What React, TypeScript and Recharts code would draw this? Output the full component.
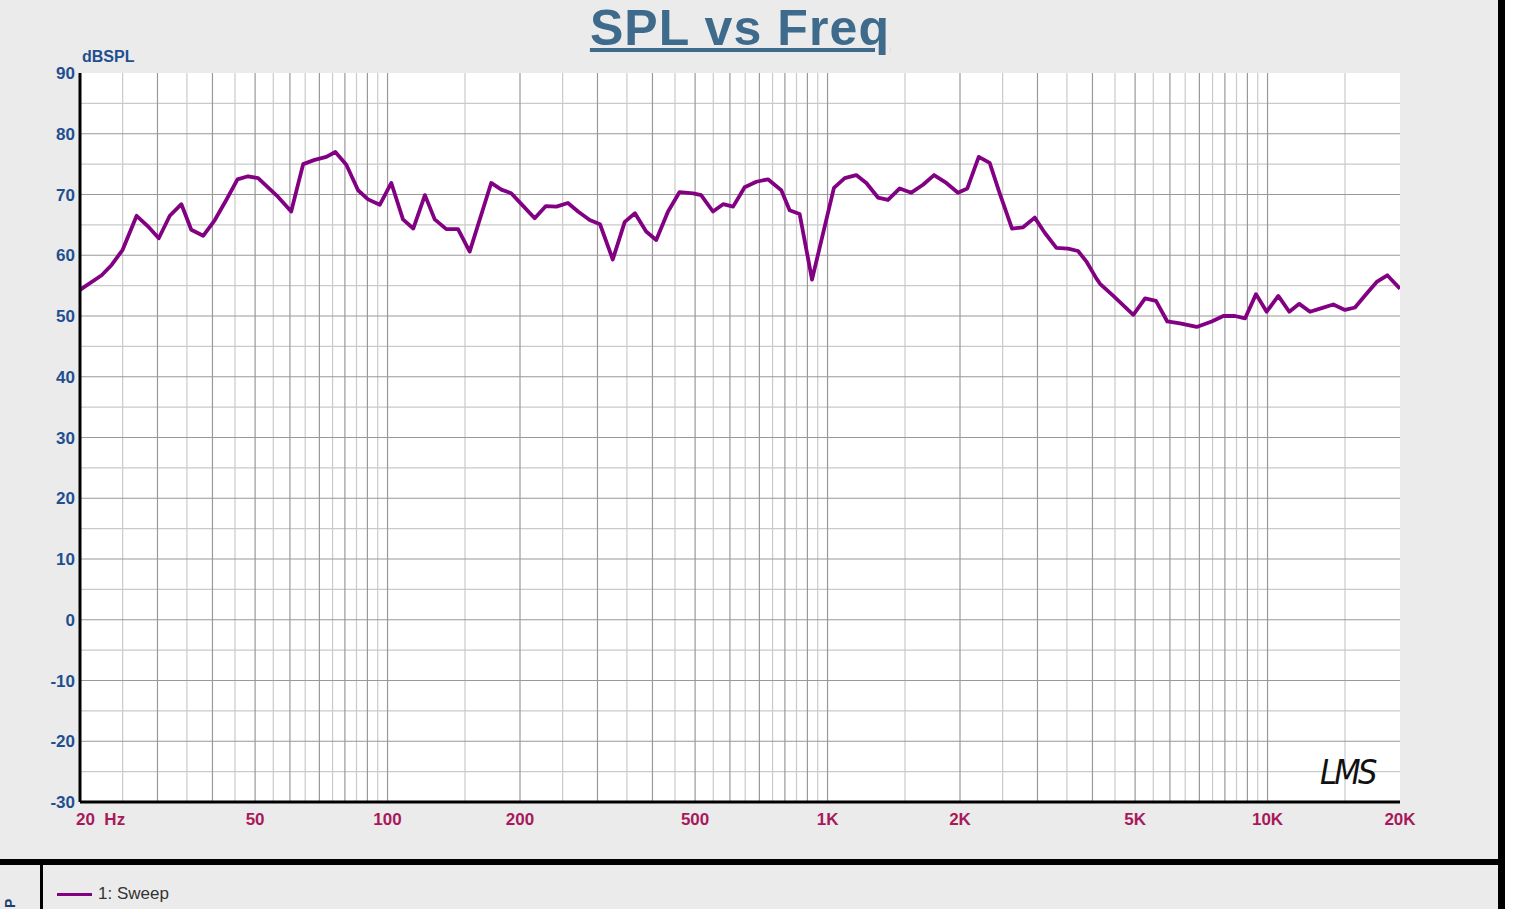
import React from "react";
import {
  LineChart,
  Line,
  XAxis,
  YAxis,
  ReferenceLine,
  ReferenceArea,
} from "recharts";

const freqHz = [
  20, 22.4, 23.6, 25.0, 26.9, 28.5, 30.2, 32.0, 34.0, 35.8, 38.1, 40.5, 43.0, 45.6, 48.2, 50.8,
  56.4, 60.4, 64.3, 68.3, 72.6, 76.1, 80.6, 85.7, 90.3, 96.0, 102, 108.4, 114.4, 121.6, 128,
  136, 144.6, 153.7, 172, 181.4, 191, 201, 216, 229, 242, 257, 271, 288, 304, 325, 346, 365,
  387, 408, 434, 461, 495, 516, 549, 579, 610, 648, 689, 732, 785, 820, 864, 922, 1034, 1094,
  1162, 1225, 1302, 1372, 1459, 1550, 1648, 1746, 1862, 1979, 2078, 2206, 2336, 2462, 2626,
  2782, 2957, 3116, 3312, 3520, 3709, 3882, 4082, 4162, 4462, 4954, 5268, 5578, 5918, 6325,
  6902, 7466, 7934, 8434, 8888, 9414, 9954, 10578, 11204, 11806, 12488, 13274, 14106, 14998,
  15802, 16802, 17702, 18712, 20000,
];

const splDb = [
  54.3, 56.7, 58.4, 60.9, 66.5, 64.8, 62.8, 66.5, 68.4, 64.2, 63.2, 65.8, 69.1, 72.5, 73.0, 72.7,
  69.6, 67.2, 75.0, 75.7, 76.2, 77.0, 74.9, 70.7, 69.2, 68.3, 71.9, 65.9, 64.4, 69.9, 65.9,
  64.3, 64.3, 60.6, 71.9, 70.8, 70.2, 68.5, 66.1, 68.1, 68.0, 68.6, 67.2, 65.8, 65.1, 59.3, 65.5, 66.9,
  63.9, 62.5, 67.2, 70.4, 70.2, 69.9, 67.2, 68.4, 68.0, 71.2, 72.1, 72.5, 70.7, 67.4, 66.8, 56.0, 71.1, 72.7,
  73.2, 71.9, 69.5, 69.1, 71.0, 70.3, 71.6, 73.2, 71.9, 70.3, 71.0, 76.2, 75.2, 70.2, 64.4,
  64.6, 66.2, 63.7, 61.2, 61.1, 60.7, 58.9, 56.2, 55.3, 53.3, 50.2, 52.9, 52.5, 49.1, 48.8,
  48.2, 49.1, 50.0, 50.0, 49.6, 53.6, 50.7, 53.3, 50.7, 52.0, 50.7, 51.3, 51.9, 51.0,
  51.4, 53.7, 55.6, 56.7, 54.5,
];

const xTicks = [20, 50, 100, 200, 500, 1000, 2000, 5000, 10000, 20000];
const xTickLabels = ["20  Hz", "50", "100", "200", "500", "1K", "2K", "5K", "10K", "20K"];
const yTicks = [-30, -20, -10, 0, 10, 20, 30, 40, 50, 60, 70, 80, 90];

const xGridMajor = [
  30, 40, 50, 60, 70, 80, 90, 100, 200, 300, 400, 500, 600, 700, 800, 900, 1000,
  2000, 3000, 4000, 5000, 6000, 7000, 8000, 9000, 10000,
];
const xGridMinor = [
  25, 35, 45, 55, 65, 75, 85, 95, 150, 250, 350, 450, 550, 650, 750, 850, 950,
  1500, 2500, 3500, 4500, 5500, 6500, 7500, 8500, 9500, 15000,
];
const yGridMajor = [-20, -10, 0, 10, 20, 30, 40, 50, 60, 70, 80];
const yGridMinor = [-25, -15, -5, 5, 15, 25, 35, 45, 55, 65, 75, 85];

const seriesName = "1: Sweep";

const chartData = freqHz.map((f, i) => ({ f, spl: splDb[i] }));

const FONT = "'Liberation Sans', Arial, sans-serif";
const X_COLOR = "#a8195c";
const Y_COLOR = "#1f4f8f";
const LINE_COLOR = "#820082";

const XTick = (props: any) => {
  const { x, y, payload } = props;
  const idx = xTicks.indexOf(payload.value);
  const label = idx >= 0 ? xTickLabels[idx] : String(payload.value);
  const isFirst = idx === 0;
  return (
    <text
      x={isFirst ? x - 4 : x}
      y={y + 15}
      textAnchor={isFirst ? "start" : "middle"}
      fill={X_COLOR}
      fontFamily={FONT}
      fontWeight="bold"
      fontSize={17}
      style={{ whiteSpace: "pre" }}
    >
      {label}
    </text>
  );
};

const YTick = (props: any) => {
  const { x, y, payload } = props;
  return (
    <text
      x={x + 3}
      y={y + 6}
      textAnchor="end"
      fill={Y_COLOR}
      fontFamily={FONT}
      fontWeight="bold"
      fontSize={17}
    >
      {payload.value}
    </text>
  );
};

export default function App() {
  return (
    <div
      style={{
        position: "absolute",
        left: 0,
        top: 0,
        width: 1513,
        height: 909,
        background: "#ffffff",
        overflow: "hidden",
        fontFamily: FONT,
      }}
    >
      <div
        style={{
          position: "absolute",
          left: 0,
          top: 0,
          width: 1498,
          height: 909,
          background: "#ebebeb",
        }}
      />
      {/* Title */}
      <div
        style={{
          position: "absolute",
          left: 0,
          top: 0,
          width: 1480,
          textAlign: "center",
          fontSize: 50,
          lineHeight: "56px",
          letterSpacing: "1.1px",
          fontWeight: "bold",
          color: "#3e6b8b",
          textDecoration: "underline",
          textDecorationThickness: "4px",
          textUnderlineOffset: "3px",
        }}
      >
        SPL vs Freq
      </div>
      <div
        style={{
          position: "absolute",
          left: 82,
          top: 48,
          fontSize: 16,
          fontWeight: "bold",
          color: Y_COLOR,
        }}
      >
        dBSPL
      </div>
      <div style={{ position: "absolute", left: 0, top: 0 }}>
        <LineChart
          width={1498}
          height={860}
          data={chartData}
          margin={{ top: 73, right: 98, bottom: 28, left: 20 }}
        >
          <XAxis
            xAxisId="b"
            dataKey="f"
            type="number"
            scale="log"
            domain={[20, 20000]}
            ticks={xTicks}
            tick={<XTick />}
            tickLine={false}
            axisLine={{ stroke: "#000", strokeWidth: 3 }}
            height={30}
            allowDataOverflow
            interval={0}
          />
          <XAxis
            xAxisId="t"
            orientation="top"
            dataKey="f"
            type="number"
            scale="log"
            domain={[20, 20000]}
            ticks={[]}
            tick={false}
            tickLine={false}
            axisLine={{ stroke: "#000", strokeWidth: 3 }}
            height={0}
            allowDataOverflow
          />
          <YAxis
            yAxisId="l"
            type="number"
            domain={[-30, 90]}
            ticks={yTicks}
            tick={<YTick />}
            tickLine={false}
            axisLine={{ stroke: "#000", strokeWidth: 3 }}
            width={60}
            interval={0}
            allowDataOverflow
          />
          <YAxis
            yAxisId="r"
            orientation="right"
            type="number"
            domain={[-30, 90]}
            ticks={[]}
            tick={false}
            tickLine={false}
            axisLine={{ stroke: "#000", strokeWidth: 3 }}
            width={0}
            allowDataOverflow
          />
          <ReferenceArea
            xAxisId="b"
            yAxisId="l"
            x1={20}
            x2={20000}
            y1={-30}
            y2={90}
            fill="#ffffff"
            fillOpacity={1}
            stroke="none"
            ifOverflow="hidden"
          />
          {yGridMinor.map((v) => (
            <ReferenceLine key={"ym" + v} xAxisId="b" yAxisId="l" y={v} stroke="#cacaca" strokeWidth={1.2} />
          ))}
          {xGridMinor.map((v) => (
            <ReferenceLine key={"xm" + v} xAxisId="b" yAxisId="l" x={v} stroke="#cacaca" strokeWidth={1.2} />
          ))}
          {yGridMajor.map((v) => (
            <ReferenceLine key={"yM" + v} xAxisId="b" yAxisId="l" y={v} stroke="#999999" strokeWidth={1.2} />
          ))}
          {xGridMajor.map((v) => (
            <ReferenceLine key={"xM" + v} xAxisId="b" yAxisId="l" x={v} stroke="#999999" strokeWidth={1.2} />
          ))}
          <Line
            xAxisId="b"
            yAxisId="l"
            type="linear"
            dataKey="spl"
            name={seriesName}
            stroke={LINE_COLOR}
            strokeWidth={3.8}
            strokeLinejoin="round"
            dot={false}
            isAnimationActive={false}
          />
        </LineChart>
      </div>
      {/* LMS logo */}
      <div
        style={{
          position: "absolute",
          left: 1320,
          top: 752,
          fontSize: 34,
          fontStyle: "italic",
          fontFamily: "'DejaVu Sans', sans-serif",
          fontWeight: 200,
          color: "#111",
          letterSpacing: -3,
          transform: "scaleX(0.9)",
          transformOrigin: "left top",
        }}
      >
        LMS
      </div>
      {/* bottom panel separators */}
      <div style={{ position: "absolute", left: 0, top: 859, width: 1505, height: 6, background: "#000" }} />
      <div style={{ position: "absolute", left: 1498, top: 0, width: 7, height: 909, background: "#000" }} />
      <div style={{ position: "absolute", left: 40, top: 865, width: 3, height: 44, background: "#000" }} />
      {/* legend */}
      <div style={{ position: "absolute", left: 57, top: 884, display: "flex", alignItems: "center" }}>
        <div style={{ width: 35, height: 3, background: LINE_COLOR, marginRight: 6 }} />
        <span style={{ fontSize: 17, color: "#333" }}>{seriesName}</span>
      </div>
      <div
        style={{
          position: "absolute",
          left: 3,
          top: 908,
          transform: "rotate(-90deg)",
          transformOrigin: "left top",
          fontSize: 14,
          lineHeight: "14px",
          fontWeight: "bold",
          color: "#1f3f6f",
          whiteSpace: "nowrap",
        }}
      >
        P
      </div>
    </div>
  );
}
